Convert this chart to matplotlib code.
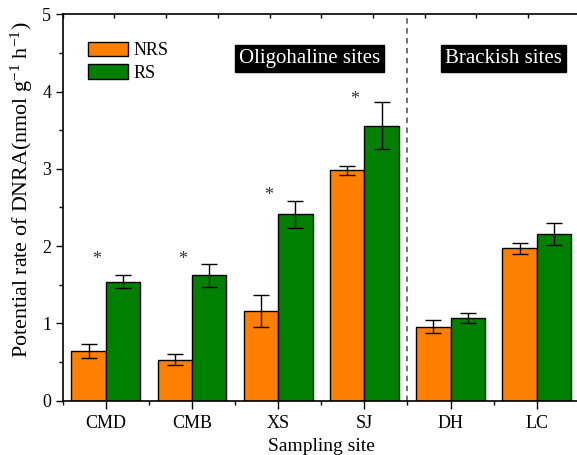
import matplotlib
matplotlib.use("Agg")
import matplotlib.pyplot as plt
import numpy as np

# DNRA potential rates (nmol g^-1 h^-1), mean and error
sites = ["CMD", "CMB", "XS", "SJ", "DH", "LC"]
nrs = [0.64, 0.53, 1.16, 2.98, 0.96, 1.97]
nrs_err = [0.09, 0.07, 0.21, 0.06, 0.09, 0.075]
rs = [1.54, 1.62, 2.41, 3.56, 1.07, 2.16]
rs_err = [0.08, 0.15, 0.17, 0.31, 0.07, 0.14]

# significance markers: site index -> star height
star_sites = [0, 1, 2, 3]
star_y = [1.86, 1.86, 2.68, 3.93]

plt.rcParams["font.family"] = ["Liberation Serif", "DejaVu Serif"]
plt.rcParams["mathtext.fontset"] = "custom"
plt.rcParams["mathtext.rm"] = "Liberation Serif"
plt.rcParams["mathtext.it"] = "Liberation Serif:italic"

fig = plt.figure(figsize=(5.77, 4.55), dpi=100)
ax = fig.add_axes([0.1087, 0.1193, 0.8963, 0.8495])

x = np.arange(len(sites))
w = 0.4
orange = "#FF8000"
green = "#008000"
ax.bar(x - w / 2, nrs, w, color=orange, edgecolor="black", linewidth=1.0, label="NRS")
ax.bar(x + w / 2, rs, w, color=green, edgecolor="black", linewidth=1.0, label="RS")
ekw = dict(fmt="none", ecolor="black", elinewidth=1.0, capsize=5.5, capthick=1.0)
ax.errorbar(x - w / 2, nrs, yerr=nrs_err, **ekw)
ax.errorbar(x + w / 2, rs, yerr=rs_err, **ekw)

for i, yy in zip(star_sites, star_y):
    ax.text(i - 0.11, yy - 0.03, "*", ha="center", va="center", fontsize=13, color="#333333")

# oligohaline / brackish divider
ax.axvline(3.5, color="#666666", linestyle=(0, (3, 2.5)), linewidth=1.3)

box = dict(boxstyle="square,pad=0.2", facecolor="black", edgecolor="black")
ax.text(2.366, 4.43, "Oligohaline sites", color="white", fontsize=15,
        ha="center", va="center", bbox=box)
ax.text(4.614, 4.43, "Brackish sites", color="white", fontsize=15,
        ha="center", va="center", bbox=box)

ax.set_xlim(-0.5, 5.5)
ax.set_ylim(0, 5)
ax.set_xticks(x)
ax.set_xticklabels(sites, fontsize=13)
ax.set_xticks(np.arange(-0.5, 5.6, 1), minor=True)
ax.set_yticks(range(6))
ax.set_yticks(np.arange(0.5, 5, 1), minor=True)
ax.tick_params(axis="y", labelsize=13, direction="out", length=4.8, width=1.0)
ax.tick_params(axis="y", which="minor", direction="out", length=3, width=1.0)
ax.tick_params(axis="x", which="major", direction="out", length=5.5, width=1.0, pad=5)
ax.tick_params(axis="x", which="minor", direction="out", length=3, width=1.0)
ax.spines["right"].set_visible(False)
for s in ["left", "bottom", "top"]:
    ax.spines[s].set_linewidth(1.2)

# inward ticks along the top edge
top = ax.twiny()
top.set_xlim(0, 10)
top.set_xticks(range(11))
top.set_xticklabels([])
top.tick_params(axis="x", direction="in", length=3, width=1.0)
for s in top.spines.values():
    s.set_visible(False)

ax.set_xlabel("Sampling site", fontsize=14, labelpad=4)
ax.set_ylabel("Potential rate of DNRA(nmol g$^{-1}$ h$^{-1}$)", fontsize=15.8)
ax.yaxis.set_label_coords(-0.054, 0.545)

ax.legend(loc="upper left", bbox_to_anchor=(0.035, 0.948), frameon=False, fontsize=13,
          handlelength=2.2, handleheight=0.85, handletextpad=0.3, labelspacing=0.3,
          borderaxespad=0)

fig.savefig("out.png", dpi=100, facecolor="white")
